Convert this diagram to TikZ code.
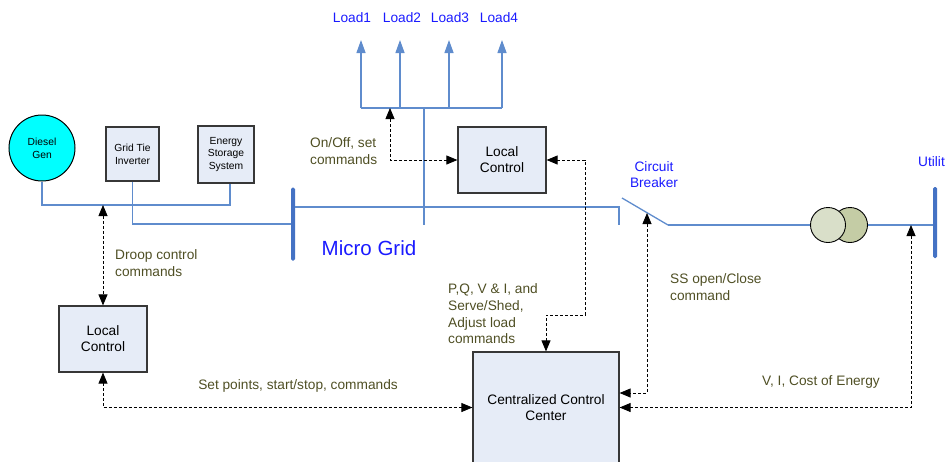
\documentclass[tikz,border=0pt]{standalone}
\usepackage{fontspec}
\setmainfont{Liberation Sans}
\usetikzlibrary{arrows.meta}

\definecolor{feedblue}{RGB}{95,140,205}
\definecolor{busblue}{RGB}{68,114,196}
\definecolor{boxfill}{RGB}{230,236,247}
\definecolor{boxline}{RGB}{55,55,55}
\definecolor{txtolive}{RGB}{79,79,36}
\definecolor{txtblue}{RGB}{26,26,255}
\definecolor{genfill}{RGB}{0,255,255}
\definecolor{xfleft}{RGB}{217,223,201}
\definecolor{xfright}{RGB}{196,204,165}

\begin{document}
\begin{tikzpicture}[x=1pt, y=-1pt,
  feeder/.style={draw=feedblue, line width=1.3pt},
  busbar/.style={rectangle, fill=busblue, minimum width=4, minimum height=73, inner sep=0pt, rounded corners=1.5pt},
  ctrl/.style={draw=black, line width=0.8pt, dash pattern=on 3pt off 2pt,
    {Triangle[length=11pt,width=9pt]}-{Triangle[length=11pt,width=9pt]}},
  unit/.style={rectangle, draw=boxline, fill=boxfill, line width=1.2pt, align=center,
    font=\fontsize{13.7}{16}\selectfont},
  source/.style={rectangle, draw=boxline, fill=boxfill, line width=1.2pt, align=center,
    inner sep=0pt, font=\fontsize{10.3}{12.8}\selectfont},
  note/.style={text=txtolive, align=left, anchor=west, inner sep=0pt,
    font=\fontsize{13.7}{16.7}\selectfont},
  tag/.style={text=txtblue, align=center, inner sep=0pt,
    font=\fontsize{13.7}{16}\selectfont}
]
  \useasboundingbox (0,0) rectangle (945,461);

  % Sources
  \node[circle, draw=black, fill=genfill, line width=1pt, minimum size=66, inner sep=0pt,
    align=center, font=\fontsize{10.3}{12.8}\selectfont] (diesel) at (42,148) {Diesel\\Gen};
  \node[source, minimum width=53, minimum height=54] (gti) at (132.5,154) {Grid Tie\\Inverter};
  \node[source, minimum width=56, minimum height=57] (ess) at (226,154.5) {Energy\\Storage\\System};

  % Micro grid bus and utility bus
  \node[busbar] (mgbus) at (293,224) {};
  \node[busbar, minimum height=71] (utbus) at (935,222.5) {};
  \node[tag, font=\fontsize{20.5}{24}\selectfont] (mglabel) at (369,248) {Micro Grid};
  \node[tag, anchor=west] (utlabel) at (918,163) {Utility};

  % Junction points
  \coordinate (tap1) at (103,205);
  \coordinate (brin) at (619,225);
  \coordinate (brout) at (668,225);
  \coordinate (brtap) at (647,213);
  \coordinate (utap) at (911,225);
  \coordinate (ldtap) at (390,108);
  \coordinate (ldfoot) at (424,225);
  \coordinate (bend1) at (585,315);

  % Feeders
  \draw[feeder] (diesel.south) |- (tap1) -| ([xshift=4pt]ess.south);
  \draw[feeder] (gti.south) |- (mgbus.west);
  \draw[feeder] (mgbus.east |- 0,207) -| (brin);
  \draw[feeder] (424,108) -- (ldfoot);

  % Loads
  \draw[feeder] (361,108) -- (502,108);
  \foreach \n/\x/\lx in {1/361/352, 2/400/402, 3/449/450, 4/502/499} {
    \node[tag] (load\n) at (\lx,18) {Load\n};
    \draw[feeder, -{Triangle[length=13pt,width=9pt]}] (\x,108) -- (\x,40);
  }

  % Circuit Breaker
  \draw[feeder] (622,198) -- (brout);
  \node[tag] (brlabel) at (654,175) {Circuit\\Breaker};

  % Transformer
  \node[circle, draw=black, fill=xfright, line width=0.9pt, minimum size=35, inner sep=0pt] (xfb) at (850,225) {};
  \node[circle, draw=black, fill=xfleft, line width=0.9pt, minimum size=35, inner sep=0pt] (xfa) at (828,225) {};
  \draw[feeder] (brout) -- (xfa.west);
  \draw[feeder] (xfb.east) -- (utbus.west |- xfb.east);

  % Controllers
  \node[unit, minimum width=88, minimum height=66] (lc1) at (502,160) {Local\\Control};
  \node[unit, minimum width=88, minimum height=66] (lc2) at (103,339) {Local\\Control};
  \node[unit, minimum width=146, minimum height=111] (ccc) at (546,407.5) {Centralized Control\\Center};

  % Control signals
  \draw[ctrl] (ldtap) |- (lc1.west);
  \draw[ctrl] (lc1.east) -| (bend1) -| (ccc.north);
  \draw[ctrl] (tap1) -- (lc2.north);
  \draw[ctrl] (lc2.south) |- (ccc.west);
  \draw[ctrl] (brtap) |- ([yshift=14.5pt]ccc.east);
  \draw[ctrl] (utap) |- (ccc.east);

  % Signal labels
  \node[note] (onoff) at (310,151) {On/Off, set\\commands};
  \node[note] (droop) at (115,263) {Droop control\\commands};
  \node[note] (pqvi) at (448,314) {P,Q, V \& I, and\\Serve/Shed,\\Adjust load\\commands};
  \node[note] (ssopen) at (670,287) {SS open/Close\\command};
  \node[note, anchor=center] (setpts) at (298,386) {Set points, start/stop, commands};
  \node[note, anchor=center] (cost) at (821,382) {V, I, Cost of Energy};
\end{tikzpicture}
\end{document}
